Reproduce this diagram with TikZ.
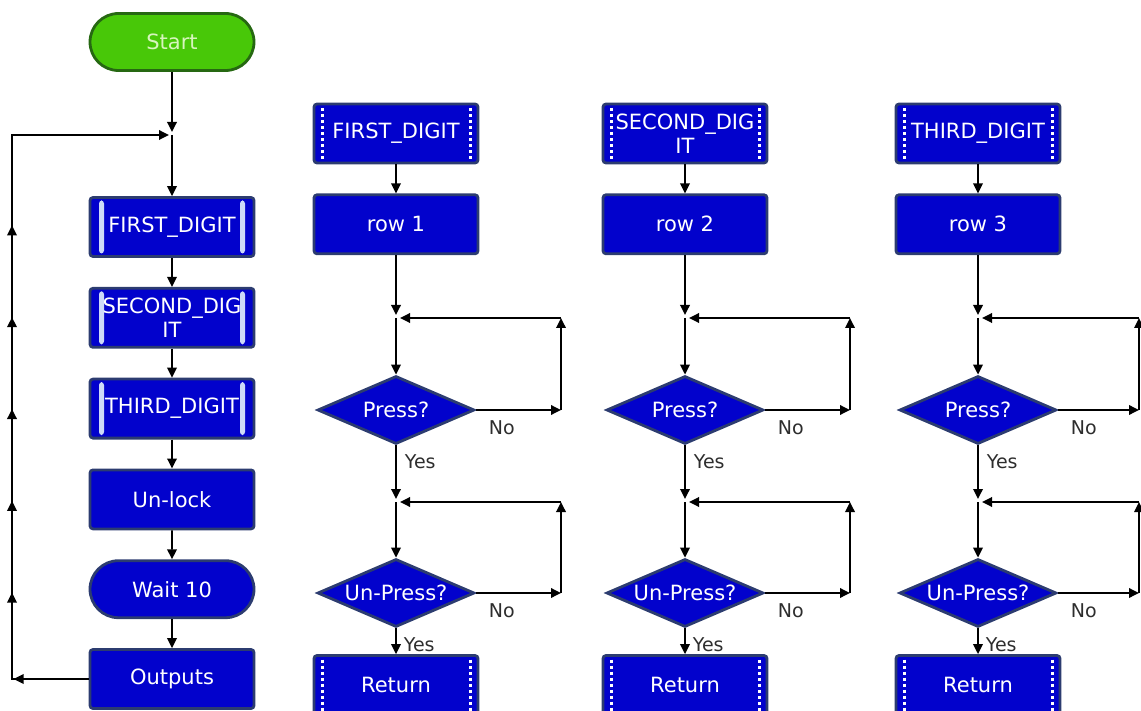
\documentclass[tikz,border=0pt]{standalone}
\usepackage{fontspec}
\setmainfont{DejaVu Sans}
\usepackage{xcolor}
\usepackage{tikz}
\usetikzlibrary{shapes.geometric,shapes.misc,arrows.meta,positioning,decorations.markings}

\definecolor{iconblue}{RGB}{2,2,204}
\definecolor{iconrim}{RGB}{44,60,112}
\definecolor{barlight}{RGB}{205,218,248}
\definecolor{startfill}{RGB}{72,200,8}
\definecolor{startrim}{RGB}{38,104,18}
\definecolor{starttext}{RGB}{215,245,190}
\definecolor{labgrey}{RGB}{45,45,45}

\begin{document}
\begin{tikzpicture}[x=1pt, y=-1pt,
  font=\fontsize{21}{24}\selectfont,
  icon/.style={rectangle, rounded corners=3pt, draw=iconrim, line width=2.8pt,
               fill=iconblue, text=white, minimum width=164pt,
               minimum height=59pt, inner sep=0pt, align=center},
  call/.style={icon, path picture={
      \fill[barlight] ([xshift=9pt,yshift=-3pt]path picture bounding box.north west)
        rectangle ([xshift=14pt,yshift=3pt]path picture bounding box.south west);
      \fill[barlight] ([xshift=-9pt,yshift=-3pt]path picture bounding box.north east)
        rectangle ([xshift=-14pt,yshift=3pt]path picture bounding box.south east);}},
  sub/.style={icon, path picture={
      \draw[white, line width=3pt, dash pattern=on 3pt off 3pt]
        ([xshift=8pt,yshift=-4pt]path picture bounding box.north west)
          -- ([xshift=8pt,yshift=4pt]path picture bounding box.south west)
        ([xshift=-8pt,yshift=-4pt]path picture bounding box.north east)
          -- ([xshift=-8pt,yshift=4pt]path picture bounding box.south east);}},
  terminal/.style={rounded rectangle, line width=2.8pt, minimum width=164pt,
                   minimum height=57pt, inner sep=0pt},
  begin/.style={terminal, fill=startfill, draw=startrim, text=starttext},
  delay/.style={terminal, fill=iconblue, draw=iconrim, text=white},
  decide/.style={diamond, aspect=2.3, draw=iconrim, line width=2.8pt,
                 fill=iconblue, text=white, minimum width=157pt,
                 minimum height=68pt, inner sep=0pt},
  arr/.style={-{Triangle[length=10pt, width=9.5pt]}, line width=1.8pt, black},
  lab/.style={font=\fontsize{19}{23}\selectfont, text=labgrey, inner sep=1pt,
              pos=0, anchor=north west},
  backmarks/.style={postaction={decorate}, decoration={markings,
      mark=at position 75pt with {\arrow{Triangle[length=10pt, width=9.5pt]}},
      mark=between positions 163pt and 622pt step 91.8pt
        with {\arrow{Triangle[length=10pt, width=9.5pt]}}}}]

\useasboundingbox (0,0) rectangle (1141,711);

% main program
\node[begin] (start) at (172,42) {Start};
\coordinate (jm) at (172,135);
\coordinate (turn) at (12,135);
\node[call] (call1) at (172,227) {FIRST\_DIGIT};
\node[call, below=29pt of call1] (call2) {SECOND\_DIG\\IT};
\node[call, below=29pt of call2] (call3) {THIRD\_DIGIT};
\node[icon, below=29pt of call3] (unlock) {Un-lock};
\node[delay, below=29pt of unlock] (wait) {Wait 10};
\node[icon, below=29pt of wait] (outs) {Outputs};

\draw[arr, shorten >=3pt] (start) -- (jm);
\draw[arr] (jm) -- (call1);
\draw[arr] (call1) -- (call2);
\draw[arr] (call2) -- (call3);
\draw[arr] (call3) -- (unlock);
\draw[arr] (unlock) -- (wait);
\draw[arr] (wait) -- (outs);
\draw[arr, backmarks, shorten >=3pt] (outs.west) -| (turn) -- (jm);

% macro FIRST_DIGIT
\node[sub] (head1) at (396,133.5) {FIRST\_DIGIT};
\node[icon, below=29pt of head1] (row1) {row 1};
\coordinate (j1) at (396,318);
\node[decide] (p1) at (396,410) {Press?};
\coordinate (j2) at (396,502);
\node[decide] (u1) at (396,593) {Un-Press?};
\node[sub] (ret1) at (396,685) {Return};
\coordinate (k1) at (561,318);
\coordinate (k2) at (561,502);

\draw[arr] (head1) -- (row1);
\draw[arr, shorten >=3pt] (row1) -- (j1);
\draw[arr] (j1) -- (p1);
\draw[arr, shorten >=3pt] (p1) -- node[lab, xshift=7pt, yshift=-7pt] (y1) {Yes} (j2);
\draw[arr] (j2) -- (u1);
\draw[arr] (u1) -- node[lab, xshift=6pt, yshift=-7pt] (y2) {Yes} (ret1);
\draw[arr] (p1.east) -- node[lab, xshift=11pt, yshift=-9pt] (n1) {No} (p1.east -| k1);
\draw[arr] (p1.east -| k1) -- (k1);
\draw[arr, shorten >=4pt] (k1) -- (j1);
\draw[arr] (u1.east) -- node[lab, xshift=11pt, yshift=-9pt] (n2) {No} (u1.east -| k2);
\draw[arr] (u1.east -| k2) -- (k2);
\draw[arr, shorten >=4pt] (k2) -- (j2);

% macro SECOND_DIGIT
\node[sub] (head2) at (685,133.5) {SECOND\_DIG\\IT};
\node[icon, below=29pt of head2] (row2) {row 2};
\coordinate (j3) at (685,318);
\node[decide] (p2) at (685,410) {Press?};
\coordinate (j4) at (685,502);
\node[decide] (u2) at (685,593) {Un-Press?};
\node[sub] (ret2) at (685,685) {Return};
\coordinate (k3) at (850,318);
\coordinate (k4) at (850,502);

\draw[arr] (head2) -- (row2);
\draw[arr, shorten >=3pt] (row2) -- (j3);
\draw[arr] (j3) -- (p2);
\draw[arr, shorten >=3pt] (p2) -- node[lab, xshift=7pt, yshift=-7pt] (y3) {Yes} (j4);
\draw[arr] (j4) -- (u2);
\draw[arr] (u2) -- node[lab, xshift=6pt, yshift=-7pt] (y4) {Yes} (ret2);
\draw[arr] (p2.east) -- node[lab, xshift=11pt, yshift=-9pt] (n3) {No} (p2.east -| k3);
\draw[arr] (p2.east -| k3) -- (k3);
\draw[arr, shorten >=4pt] (k3) -- (j3);
\draw[arr] (u2.east) -- node[lab, xshift=11pt, yshift=-9pt] (n4) {No} (u2.east -| k4);
\draw[arr] (u2.east -| k4) -- (k4);
\draw[arr, shorten >=4pt] (k4) -- (j4);

% macro THIRD_DIGIT
\node[sub] (head3) at (978,133.5) {THIRD\_DIGIT};
\node[icon, below=29pt of head3] (row3) {row 3};
\coordinate (j5) at (978,318);
\node[decide] (p3) at (978,410) {Press?};
\coordinate (j6) at (978,502);
\node[decide] (u3) at (978,593) {Un-Press?};
\node[sub] (ret3) at (978,685) {Return};
\coordinate (k5) at (1139,318);
\coordinate (k6) at (1139,502);

\draw[arr] (head3) -- (row3);
\draw[arr, shorten >=3pt] (row3) -- (j5);
\draw[arr] (j5) -- (p3);
\draw[arr, shorten >=3pt] (p3) -- node[lab, xshift=7pt, yshift=-7pt] (y5) {Yes} (j6);
\draw[arr] (j6) -- (u3);
\draw[arr] (u3) -- node[lab, xshift=6pt, yshift=-7pt] (y6) {Yes} (ret3);
\draw[arr] (p3.east) -- node[lab, xshift=11pt, yshift=-9pt] (n5) {No} (p3.east -| k5);
\draw[arr] (p3.east -| k5) -- (k5);
\draw[arr, shorten >=4pt] (k5) -- (j5);
\draw[arr] (u3.east) -- node[lab, xshift=11pt, yshift=-9pt] (n6) {No} (u3.east -| k6);
\draw[arr] (u3.east -| k6) -- (k6);
\draw[arr, shorten >=4pt] (k6) -- (j6);
\end{tikzpicture}
\end{document}
